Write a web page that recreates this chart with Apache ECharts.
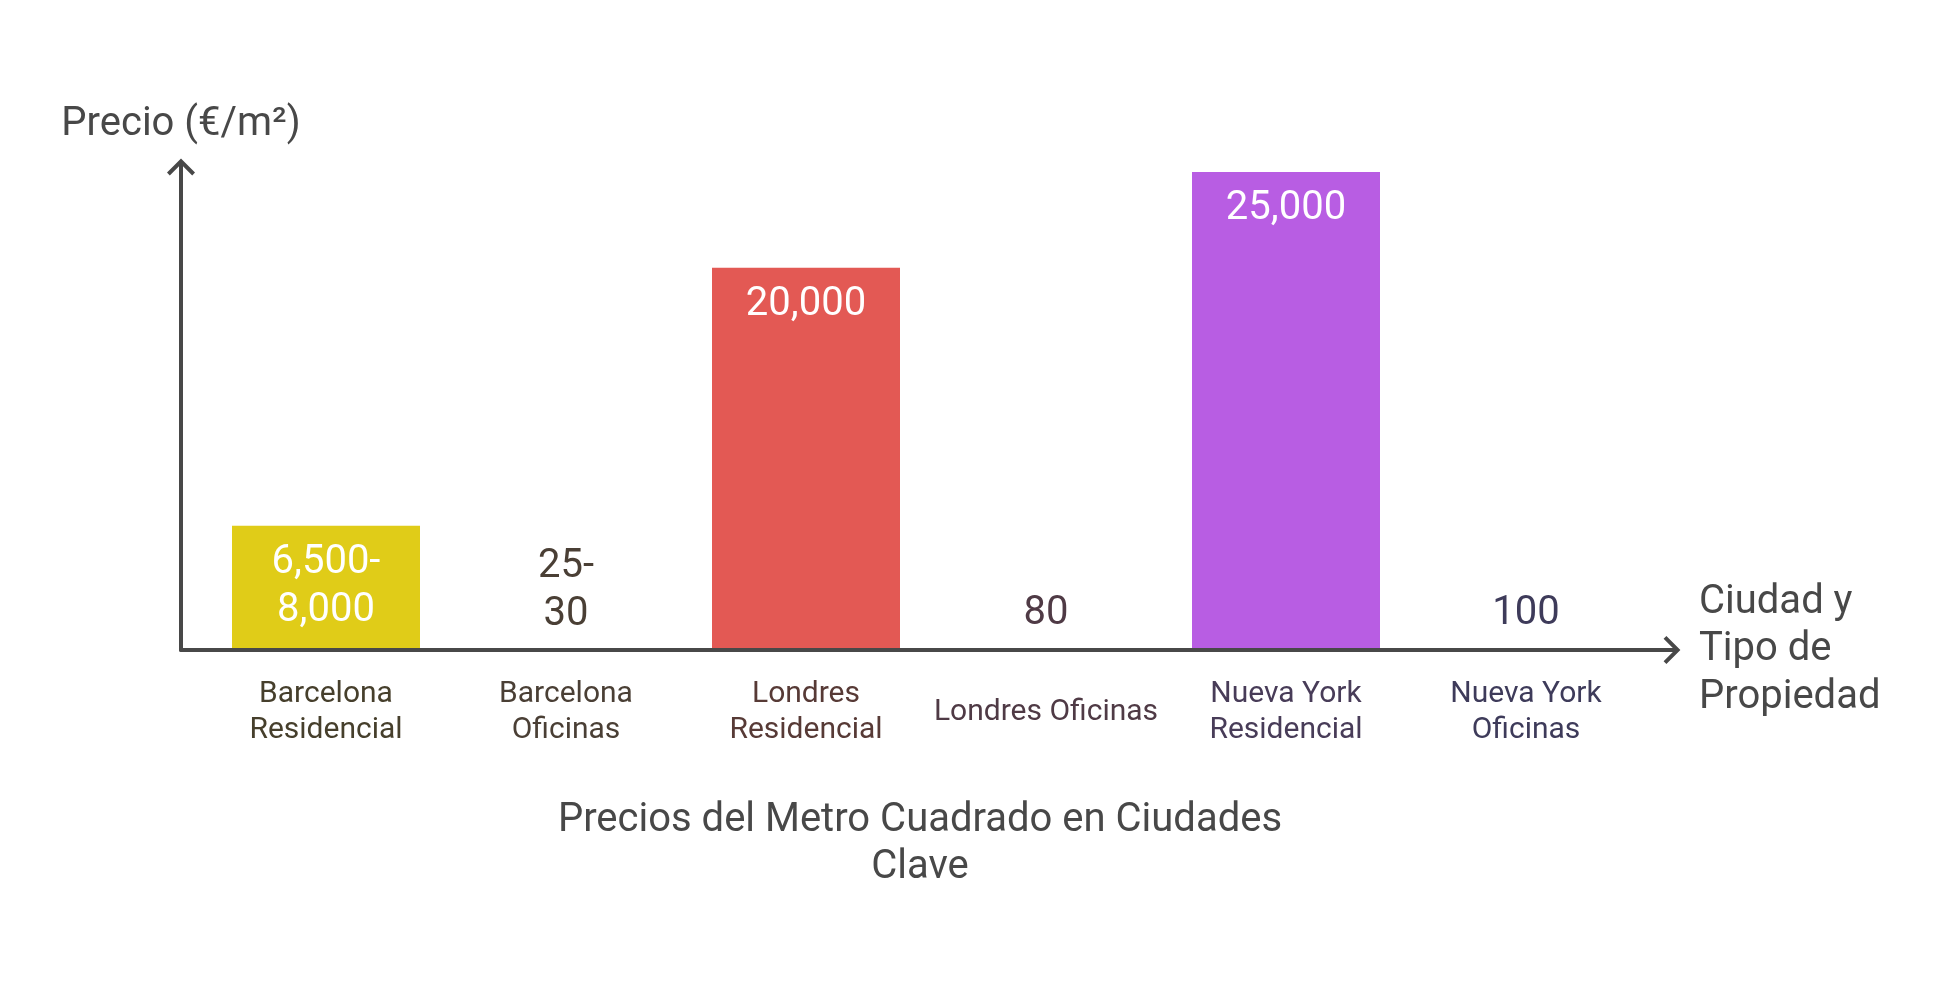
<!DOCTYPE html>
<html>
<head>
<meta charset="utf-8">
<script src="https://cdn.jsdelivr.net/npm/echarts@6/dist/echarts.min.js"></script>
<style>
  html, body { margin: 0; padding: 0; background: #fff; }
  #chart { width: 1936px; height: 988px; }
</style>
</head>
<body>
<div id="chart"></div>
<script>
const categories = ['Barcelona\nResidencial', 'Barcelona\nOficinas', 'Londres\nResidencial', 'Londres Oficinas', 'Nueva York\nResidencial', 'Nueva York\nOficinas']
const precios = [6500, 30, 20000, 80, 25000, 100]
const etiquetas = ['6,500-\n8,000', '25-\n30', '20,000', '80', '25,000', '100']
const barColors = ['#e0cc18', '#4a3f35', '#e35954', '#4f3a45', '#b85de3', '#3e3b5a']
const labelColors = ['#463f2c', '#4a3f35', '#573a36', '#4f3a45', '#483c58', '#3e3b5a']
const insideBar = [true, false, true, false, true, false]

const axisGray = '#484848'
const font = 'Roboto'
// chevron arrow with a short stem, pointing up (rotated by echarts for the x axis)
const arrow = 'path://M0,14L14,0L28,14L25.2,16.8L16,7.6L16,16.8L12,16.8L12,7.6L2.8,16.8Z'

const chart = echarts.init(document.getElementById('chart'))

chart.setOption({
  backgroundColor: '#fff',
  textStyle: { fontFamily: font },
  grid: [
    { left: 181, right: 264, top: 167, bottom: 338 },
    { left: 206, right: 290, top: 153, bottom: 338 }
  ],
  xAxis: [
    {
      type: 'value', gridIndex: 0, min: 0, max: 1, z: 5,
      axisLine: { show: true, symbol: ['none', arrow], symbolSize: [28, 17], lineStyle: { color: axisGray, width: 4 } },
      axisTick: { show: false }, axisLabel: { show: false }, splitLine: { show: false },
      name: 'Ciudad y\nTipo de\nPropiedad', nameLocation: 'end', nameGap: 27,
      nameTextStyle: { fontFamily: font, fontSize: 40, lineHeight: 47.5, color: axisGray, align: 'left', verticalAlign: 'middle', padding: [7, 0, 0, 0] }
    },
    {
      type: 'category', gridIndex: 1, data: categories,
      axisLine: { show: false }, axisTick: { show: false },
      axisLabel: {
        interval: 0, margin: 62, verticalAlign: 'middle', fontFamily: font, fontSize: 30, lineHeight: 36,
        color: (v, i) => labelColors[i]
      }
    }
  ],
  yAxis: [
    {
      type: 'value', gridIndex: 0, min: 0, max: 1, z: 5,
      axisLine: { show: true, symbol: ['none', arrow], symbolSize: [28, 17], lineStyle: { color: axisGray, width: 4 } },
      axisTick: { show: false }, axisLabel: { show: false }, splitLine: { show: false },
      name: 'Precio (€/m²)', nameLocation: 'end', nameGap: 19,
      nameTextStyle: { fontFamily: font, fontSize: 40, lineHeight: 47, color: axisGray }
    },
    { type: 'value', gridIndex: 1, min: 0, max: 26000, show: false }
  ],
  graphic: [
    {
      type: 'text', x: 920, y: 797,
      style: {
        text: 'Precios del Metro Cuadrado en Ciudades\nClave',
        font: '40px Roboto', lineHeight: 47, fill: axisGray, align: 'center', verticalAlign: 'top'
      }
    }
  ],
  series: [
    {
      type: 'bar', xAxisIndex: 1, yAxisIndex: 1, barWidth: 188,
      data: precios.map((v, i) => ({
        value: v,
        itemStyle: { color: barColors[i] },
        label: {
          show: true,
          formatter: etiquetas[i],
          position: insideBar[i] ? 'insideTop' : 'top',
          distance: insideBar[i] ? 13 : 10,
          color: insideBar[i] ? '#ffffff' : labelColors[i],
          fontFamily: font, fontSize: 40, lineHeight: 48
        }
      }))
    }
  ]
})
</script>
</body>
</html>
